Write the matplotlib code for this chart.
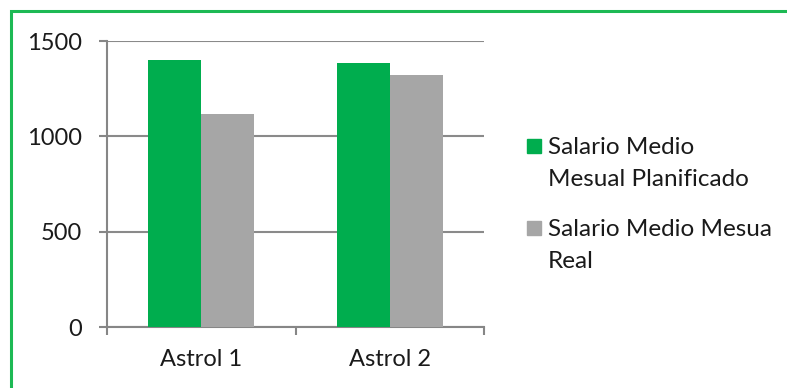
import numpy as np
import matplotlib.pyplot as plt
from matplotlib.patches import Rectangle
from matplotlib.lines import Line2D

# Salary data per category
categories = ["Astrol 1", "Astrol 2"]
planificado = [1400, 1385]
real = [1115, 1320]
series_labels = ["Salario Medio\nMesual Planificado", "Salario Medio Mesua\nReal"]
series_colors = ["#00ad4e", "#a6a6a6"]

plt.rcParams['font.family'] = ['Lato', 'DejaVu Sans']
text_color = "#1a1a1a"

fig = plt.figure(figsize=(7.87, 3.88), dpi=100)
ax = fig.add_axes([107 / 787, (388 - 327) / 388, (484 - 107) / 787, (327 - 41) / 388])

x = np.arange(len(categories))
w = 0.28
ax.bar(x - w / 2, planificado, w, color=series_colors[0], zorder=3)
ax.bar(x + w / 2, real, w, color=series_colors[1], zorder=3)

ax.set_xlim(-0.5, 1.5)
ax.set_ylim(0, 1500)
ax.set_yticks([0, 500, 1000, 1500])
ax.set_xticks(x)
ax.set_xticklabels(categories)
ax.set_xticks([-0.5, 0.5, 1.5], minor=True)
ax.tick_params(axis='x', which='major', length=0, pad=16)
ax.tick_params(axis='x', which='minor', length=6, width=1.5, color="#868686")
ax.tick_params(axis='y', length=6, width=1.5, color="#868686", pad=12)
ax.tick_params(labelsize=17, labelcolor=text_color)

ax.yaxis.grid(True, color="#8a8a8a", linewidth=1.5, zorder=0)
for side in ["top", "right"]:
    ax.spines[side].set_visible(False)
for side in ["left", "bottom"]:
    ax.spines[side].set_color("#868686")
    ax.spines[side].set_linewidth(1.5)

# legend drawn by hand: square aligned with the first text line
entry_tops = [137, 219]
for label, color, top in zip(series_labels, series_colors, entry_tops):
    fig.patches.append(Rectangle((527 / 787, 1 - (top + 16) / 388), 14 / 787, 14 / 388,
                                 transform=fig.transFigure, color=color))
    fig.text(548 / 787, 1 - top / 388, label, fontsize=17.5, color=text_color,
             va='top', ha='left', linespacing=1.65)

# green border along the left and top edges
fx, fy = 11 / 787, 1 - 11 / 388
fig.lines.append(Line2D([fx, fx, 1.0], [0.0, fy, fy], transform=fig.transFigure,
                        color="#1db954", linewidth=2.2, solid_joinstyle="miter"))

fig.savefig("out.png", dpi=100)
